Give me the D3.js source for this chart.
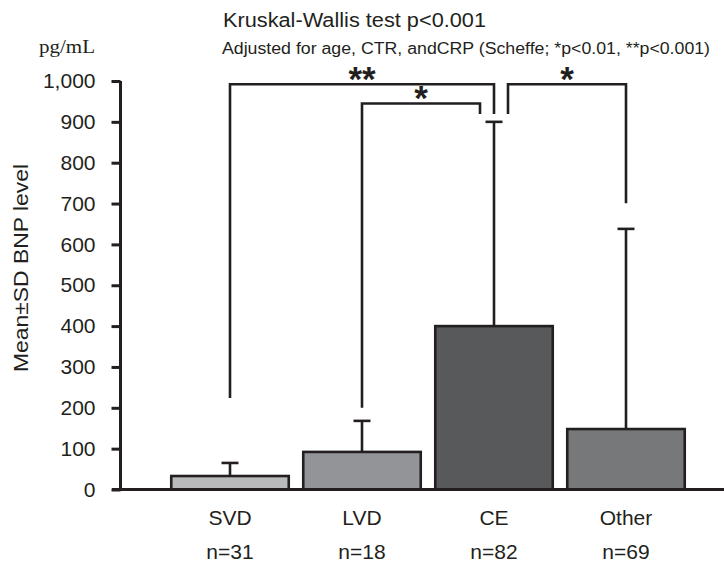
<!DOCTYPE html>
<html>
<head>
<meta charset="utf-8">
<script src="https://cdn.jsdelivr.net/npm/d3@7"></script>
<style>
  html, body { margin: 0; padding: 0; background: #fff; }
  svg { display: block; }
  text { fill: #231f20; font-family: "Liberation Sans", Arial, Helvetica, sans-serif; }
</style>
</head>
<body>
<svg id="chart" width="724" height="562"></svg>
<script>
// Stroke subtypes and group sizes
const categories = ["SVD", "LVD", "CE", "Other"];
const groupSizes = ["n=31", "n=18", "n=82", "n=69"];
// Mean BNP level (pg/mL) and mean + SD
const means = [33, 92, 400, 148];
const upperSD = [65, 168, 900, 638];
const fills = ["#b9babc", "#939497", "#58595b", "#77787a"];
const yTicks = [0, 100, 200, 300, 400, 500, 600, 700, 800, 900, 1000];

// Pairwise comparison brackets: groups, bracket height, leg bottoms (pg/mL), star label
const brackets = [
  { from: "SVD", to: "CE", top: 992, leftEnd: 224, rightEnd: 919, label: "**", fromShift: 0, toShift: 0 },
  { from: "LVD", to: "CE", top: 945, leftEnd: 200, rightEnd: 919, label: "*", fromShift: 0, toShift: -14 },
  { from: "CE", to: "Other", top: 992, leftEnd: 919, rightEnd: 701, label: "*", fromShift: 14, toShift: 0 }
];

const ink = "#231f20";
const svg = d3.select("#chart");

const x = d3.scaleBand()
  .domain(categories)
  .range([164, 692])
  .paddingInner(0.11)
  .paddingOuter(0.055);

const y = d3.scaleLinear().domain([0, 1000]).range([489.5, 81]);
const cx = c => x(c) + x.bandwidth() / 2;

// Y axis
const yAxis = svg.append("g")
  .attr("transform", "translate(120.5,0)")
  .call(d3.axisLeft(y).tickValues(yTicks).tickFormat(d3.format(",")).tickSize(9).tickPadding(16));
yAxis.select(".domain").attr("stroke", ink).attr("stroke-width", 3).attr("d", `M0,${y(1000)}V${y(0)}`);
yAxis.selectAll(".tick line").attr("stroke", ink).attr("stroke-width", 3);
yAxis.selectAll(".tick text")
  .style("font-family", "'Liberation Sans', Arial, sans-serif")
  .style("font-size", "21px")
  .attr("fill", ink);

// Error bars (mean to mean + SD)
const eb = svg.append("g").attr("stroke", ink).attr("stroke-width", 2.6).attr("fill", "none");
categories.forEach((c, i) => {
  eb.append("line").attr("x1", cx(c)).attr("x2", cx(c)).attr("y1", y(means[i])).attr("y2", y(upperSD[i]));
  eb.append("line").attr("x1", cx(c) - 8.5).attr("x2", cx(c) + 8.5).attr("y1", y(upperSD[i])).attr("y2", y(upperSD[i]));
});

// Bars
svg.append("g").selectAll("rect")
  .data(categories)
  .join("rect")
  .attr("x", d => x(d))
  .attr("width", x.bandwidth())
  .attr("y", (d, i) => y(means[i]))
  .attr("height", (d, i) => y(0) - y(means[i]))
  .attr("fill", (d, i) => fills[i])
  .attr("stroke", ink)
  .attr("stroke-width", 2.6);

// Baseline, drawn over the bar bottoms
svg.append("line")
  .attr("x1", 112).attr("x2", 724)
  .attr("y1", y(0)).attr("y2", y(0))
  .attr("stroke", ink).attr("stroke-width", 3);

// Significance brackets
const bg = svg.append("g");
brackets.forEach(b => {
  const x0 = cx(b.from) + b.fromShift;
  const x1 = cx(b.to) + b.toShift;
  bg.append("path")
    .attr("d", `M${x0},${y(b.leftEnd)}V${y(b.top)}H${x1}V${y(b.rightEnd)}`)
    .attr("fill", "none")
    .attr("stroke", ink)
    .attr("stroke-width", 2.6);
  bg.append("text")
    .attr("x", (x0 + x1) / 2)
    .attr("y", y(b.top) + 7)
    .attr("text-anchor", "middle")
    .style("font-size", "35px")
    .style("font-weight", "bold")
    .text(b.label);
});

// Category labels and group sizes
svg.append("g").selectAll("text")
  .data(categories)
  .join("text")
  .attr("x", d => cx(d))
  .attr("y", 525)
  .attr("text-anchor", "middle")
  .style("font-size", "21px")
  .text(d => d);

svg.append("g").selectAll("text")
  .data(categories)
  .join("text")
  .attr("x", d => cx(d))
  .attr("y", 559)
  .attr("text-anchor", "middle")
  .style("font-size", "21px")
  .text((d, i) => groupSizes[i]);

// Y axis title and unit
svg.append("text")
  .attr("transform", "translate(27.5,268) rotate(-90)")
  .attr("text-anchor", "middle")
  .attr("textLength", 208)
  .attr("lengthAdjust", "spacingAndGlyphs")
  .style("font-size", "21px")
  .text("Mean±SD BNP level");

svg.append("text")
  .attr("x", 39).attr("y", 53)
  .attr("textLength", 56)
  .attr("lengthAdjust", "spacingAndGlyphs")
  .style("font-family", "'Liberation Serif', 'Times New Roman', serif")
  .style("font-size", "18px")
  .text("pg/mL");

// Headings
svg.append("text")
  .attr("x", 223).attr("y", 27)
  .attr("textLength", 263)
  .attr("lengthAdjust", "spacingAndGlyphs")
  .style("font-size", "20px")
  .text("Kruskal-Wallis test p<0.001");

svg.append("text")
  .attr("x", 222).attr("y", 54)
  .attr("textLength", 488)
  .attr("lengthAdjust", "spacingAndGlyphs")
  .style("font-size", "16px")
  .text("Adjusted for age, CTR, andCRP (Scheffe; *p<0.01, **p<0.001)");
</script>
</body>
</html>
